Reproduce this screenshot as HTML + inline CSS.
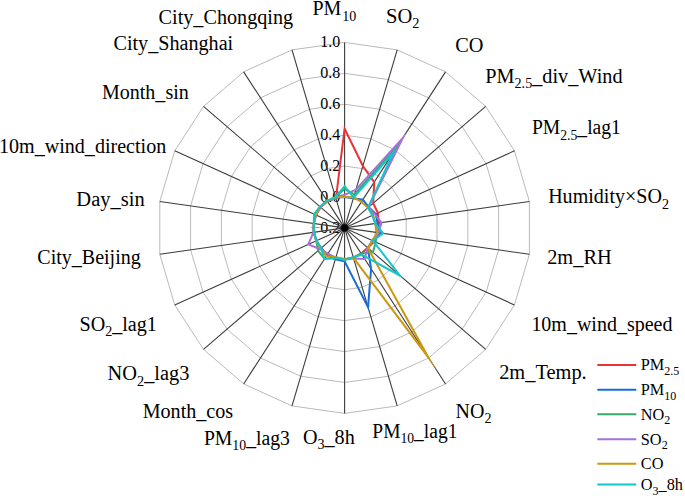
<!DOCTYPE html>
<html><head><meta charset="utf-8"><style>
html,body{margin:0;padding:0;background:#fff;}
svg{display:block;}
text{font-family:"Liberation Serif",serif;fill:#000;}
.lab{font-size:20px;}
.sub{font-size:14px;}
.tick{font-size:16px;}
.leg{font-size:16.3px;}
.lsub{font-size:12px;}
</style></head><body>
<svg width="685" height="496" viewBox="0 0 685 496">

<polygon points="344.60,196.98 353.37,198.24 361.42,201.89 368.12,207.65 372.90,215.06 375.40,223.50 375.40,232.30 372.90,240.74 368.12,248.15 361.42,253.91 353.37,257.56 344.60,258.82 335.83,257.56 327.78,253.91 321.08,248.15 316.30,240.74 313.80,232.30 313.80,223.50 316.30,215.06 321.08,207.65 327.78,201.89 335.83,198.24" fill="none" stroke="#a8a8a8" stroke-width="0.8"/>
<polygon points="344.60,166.07 362.13,168.57 378.25,175.88 391.63,187.41 401.21,202.21 406.20,219.10 406.20,236.70 401.21,253.59 391.63,268.39 378.25,279.92 362.13,287.23 344.60,289.73 327.07,287.23 310.95,279.92 297.57,268.39 287.99,253.59 283.00,236.70 283.00,219.10 287.99,202.21 297.57,187.41 310.95,175.88 327.07,168.57" fill="none" stroke="#a8a8a8" stroke-width="0.8"/>
<polygon points="344.60,135.15 370.90,138.91 395.07,149.87 415.15,167.16 429.51,189.37 437.00,214.70 437.00,241.10 429.51,266.43 415.15,288.64 395.07,305.93 370.90,316.89 344.60,320.65 318.30,316.89 294.13,305.93 274.05,288.64 259.69,266.43 252.20,241.10 252.20,214.70 259.69,189.37 274.05,167.16 294.13,149.87 318.30,138.91" fill="none" stroke="#a8a8a8" stroke-width="0.8"/>
<polygon points="344.60,104.23 379.67,109.24 411.89,123.86 438.67,146.92 457.82,176.53 467.80,210.30 467.80,245.50 457.82,279.27 438.67,308.88 411.89,331.94 379.67,346.56 344.60,351.57 309.53,346.56 277.31,331.94 250.53,308.88 231.38,279.27 221.40,245.50 221.40,210.30 231.38,176.53 250.53,146.92 277.31,123.86 309.53,109.24" fill="none" stroke="#a8a8a8" stroke-width="0.8"/>
<polygon points="344.60,73.32 388.43,79.58 428.71,97.86 462.18,126.67 486.12,163.68 498.60,205.90 498.60,249.90 486.12,292.12 462.18,329.13 428.71,357.94 388.43,376.22 344.60,382.48 300.77,376.22 260.49,357.94 227.02,329.13 203.08,292.12 190.60,249.90 190.60,205.90 203.08,163.68 227.02,126.67 260.49,97.86 300.77,79.58" fill="none" stroke="#a8a8a8" stroke-width="0.8"/>
<polygon points="344.60,42.40 397.20,49.91 445.54,71.85 485.70,106.42 514.43,150.84 529.40,201.50 529.40,254.30 514.43,304.96 485.70,349.38 445.54,383.95 397.20,405.89 344.60,413.40 292.00,405.89 243.66,383.95 203.50,349.38 174.77,304.96 159.80,254.30 159.80,201.50 174.77,150.84 203.50,106.42 243.66,71.85 292.00,49.91" fill="none" stroke="#a8a8a8" stroke-width="0.8"/>
<line x1="311.2" y1="227.60" x2="319.6" y2="227.60" stroke="#8a8a8a" stroke-width="0.9"/>
<text class="tick" x="340.3" y="227.4" text-anchor="end" dominant-baseline="central">0.2</text>
<text class="tick" x="340.3" y="196.5" text-anchor="end" dominant-baseline="central">0.0</text>
<text class="tick" x="340.3" y="165.6" text-anchor="end" dominant-baseline="central">0.2</text>
<text class="tick" x="340.3" y="134.6" text-anchor="end" dominant-baseline="central">0.4</text>
<text class="tick" x="340.3" y="103.7" text-anchor="end" dominant-baseline="central">0.6</text>
<text class="tick" x="340.3" y="72.8" text-anchor="end" dominant-baseline="central">0.8</text>
<text class="tick" x="340.3" y="41.9" text-anchor="end" dominant-baseline="central">1.0</text>
<line x1="344.60" y1="227.90" x2="344.60" y2="42.40" stroke="#3c3c3c" stroke-width="1.1"/>
<line x1="344.60" y1="227.90" x2="397.20" y2="49.91" stroke="#3c3c3c" stroke-width="1.1"/>
<line x1="344.60" y1="227.90" x2="445.54" y2="71.85" stroke="#3c3c3c" stroke-width="1.1"/>
<line x1="344.60" y1="227.90" x2="485.70" y2="106.42" stroke="#3c3c3c" stroke-width="1.1"/>
<line x1="344.60" y1="227.90" x2="514.43" y2="150.84" stroke="#3c3c3c" stroke-width="1.1"/>
<line x1="344.60" y1="227.90" x2="529.40" y2="201.50" stroke="#3c3c3c" stroke-width="1.1"/>
<line x1="344.60" y1="227.90" x2="529.40" y2="254.30" stroke="#3c3c3c" stroke-width="1.1"/>
<line x1="344.60" y1="227.90" x2="514.43" y2="304.96" stroke="#3c3c3c" stroke-width="1.1"/>
<line x1="344.60" y1="227.90" x2="485.70" y2="349.38" stroke="#3c3c3c" stroke-width="1.1"/>
<line x1="344.60" y1="227.90" x2="445.54" y2="383.95" stroke="#3c3c3c" stroke-width="1.1"/>
<line x1="344.60" y1="227.90" x2="397.20" y2="405.89" stroke="#3c3c3c" stroke-width="1.1"/>
<line x1="344.60" y1="227.90" x2="344.60" y2="413.40" stroke="#3c3c3c" stroke-width="1.1"/>
<line x1="344.60" y1="227.90" x2="292.00" y2="405.89" stroke="#3c3c3c" stroke-width="1.1"/>
<line x1="344.60" y1="227.90" x2="243.66" y2="383.95" stroke="#3c3c3c" stroke-width="1.1"/>
<line x1="344.60" y1="227.90" x2="203.50" y2="349.38" stroke="#3c3c3c" stroke-width="1.1"/>
<line x1="344.60" y1="227.90" x2="174.77" y2="304.96" stroke="#3c3c3c" stroke-width="1.1"/>
<line x1="344.60" y1="227.90" x2="159.80" y2="254.30" stroke="#3c3c3c" stroke-width="1.1"/>
<line x1="344.60" y1="227.90" x2="159.80" y2="201.50" stroke="#3c3c3c" stroke-width="1.1"/>
<line x1="344.60" y1="227.90" x2="174.77" y2="150.84" stroke="#3c3c3c" stroke-width="1.1"/>
<line x1="344.60" y1="227.90" x2="203.50" y2="106.42" stroke="#3c3c3c" stroke-width="1.1"/>
<line x1="344.60" y1="227.90" x2="243.66" y2="71.85" stroke="#3c3c3c" stroke-width="1.1"/>
<line x1="344.60" y1="227.90" x2="292.00" y2="49.91" stroke="#3c3c3c" stroke-width="1.1"/>
<defs><radialGradient id="blob"><stop offset="0" stop-color="#000" stop-opacity="1"/><stop offset="0.6" stop-color="#000" stop-opacity="1"/><stop offset="1" stop-color="#000" stop-opacity="0"/></radialGradient></defs>
<circle cx="344.60" cy="227.90" r="4.7" fill="url(#blob)"/>
<polygon points="344.60,128.73 362.88,166.05 374.21,182.12 373.17,203.30 377.86,212.81 378.79,223.02 378.48,232.74 374.32,241.39 367.76,247.84 361.17,253.52 353.37,257.56 344.60,259.59 335.83,257.56 326.94,255.21 321.08,248.15 316.30,240.74 313.80,232.30 313.80,223.50 316.01,214.93 320.50,207.15 327.10,200.85 335.92,198.53" fill="none" stroke="#eb3237" stroke-width="2" stroke-linejoin="miter" stroke-miterlimit="30"/>
<polygon points="344.60,196.98 353.37,198.24 362.85,199.68 368.70,207.15 375.74,213.77 377.56,223.19 380.17,232.98 372.34,240.49 367.88,247.94 371.10,268.86 368.05,307.25 344.60,261.29 335.31,259.34 326.94,255.21 321.08,248.15 316.30,240.74 313.80,232.30 313.80,223.50 315.87,214.86 320.14,206.84 327.36,201.24 335.66,197.64" fill="none" stroke="#176cdc" stroke-width="2" stroke-linejoin="miter" stroke-miterlimit="30"/>
<polygon points="344.60,189.10 354.51,194.38 399.44,143.11 368.12,207.65 372.90,215.06 375.40,223.50 376.94,232.52 375.74,242.03 372.94,252.30 361.17,253.52 353.37,257.56 344.60,259.59 335.61,258.31 324.66,258.72 318.03,250.78 316.30,240.74 313.80,232.30 313.80,223.50 314.88,214.41 320.50,207.15 327.36,201.24 335.40,196.75" fill="none" stroke="#38aa6a" stroke-width="2" stroke-linejoin="miter" stroke-miterlimit="30"/>
<polygon points="344.60,194.82 355.87,189.78 402.81,137.91 368.35,207.45 374.74,214.22 381.56,222.62 378.48,232.74 372.90,240.74 367.65,247.74 364.70,258.98 353.63,258.45 344.60,259.59 335.83,257.56 327.95,253.65 320.14,248.96 308.23,244.40 313.49,232.34 313.80,223.50 315.59,214.74 320.50,207.15 327.36,201.24 335.61,197.49" fill="none" stroke="#a970dd" stroke-width="2" stroke-linejoin="miter" stroke-miterlimit="30"/>
<polygon points="344.60,196.67 353.59,197.49 361.42,201.89 368.12,207.65 372.90,215.06 375.40,223.50 377.40,232.59 372.34,240.49 367.88,247.94 428.71,357.94 353.45,257.86 344.60,258.97 335.96,257.12 326.43,255.99 320.50,248.65 316.30,240.74 313.80,232.30 313.80,223.50 315.87,214.86 320.03,206.74 327.36,201.24 335.61,197.49" fill="none" stroke="#cc980f" stroke-width="2" stroke-linejoin="miter" stroke-miterlimit="30"/>
<polygon points="344.60,186.01 353.54,197.64 393.22,152.73 368.12,207.65 372.20,215.38 375.40,223.50 383.10,233.40 372.90,240.74 399.86,275.48 362.01,254.82 353.24,257.12 344.60,260.05 335.83,257.56 324.50,258.98 321.08,248.15 316.58,240.61 313.80,232.30 313.80,223.50 314.03,214.03 319.91,206.64 326.94,200.59 335.48,197.05" fill="none" stroke="#12c6cb" stroke-width="2" stroke-linejoin="miter" stroke-miterlimit="30"/>
<text class="lab" x="312.5" y="15.2">PM<tspan class="sub" x="342.3" dy="5.3">10</tspan></text>
<text class="lab" x="386.01" y="22.8" textLength="33.41" lengthAdjust="spacingAndGlyphs">SO<tspan class="sub" dy="5.3">2</tspan></text>
<text class="lab" x="455.20" y="51.6" textLength="28.20" lengthAdjust="spacingAndGlyphs">CO</text>
<text class="lab" x="485.26" y="82.5" textLength="137.31" lengthAdjust="spacingAndGlyphs">PM<tspan class="sub" dy="5.3">2.5</tspan><tspan dy="-5.3">_div_Wind</tspan></text>
<text class="lab" x="531.90" y="134.2" textLength="89.00" lengthAdjust="spacingAndGlyphs">PM<tspan class="sub" dy="5.3">2.5</tspan><tspan dy="-5.3">_lag1</tspan></text>
<text class="lab" x="548.15" y="203.3" textLength="120.76" lengthAdjust="spacingAndGlyphs">Humidity×SO<tspan class="sub" dy="5.3">2</tspan></text>
<text class="lab" x="547.17" y="263.5" textLength="64.55" lengthAdjust="spacingAndGlyphs">2m_RH</text>
<text class="lab" x="531.38" y="330.8" textLength="141.03" lengthAdjust="spacingAndGlyphs">10m_wind_speed</text>
<text class="lab" x="499.16" y="379.3" textLength="87.54" lengthAdjust="spacingAndGlyphs">2m_Temp.</text>
<text class="lab" x="455.5" y="417.7">NO<tspan class="sub" dy="5.3">2</tspan></text>
<text class="lab" x="372.33" y="437.6" textLength="85.08" lengthAdjust="spacingAndGlyphs">PM<tspan class="sub" dy="5.3">10</tspan><tspan dy="-5.3">_lag1</tspan></text>
<text class="lab" x="302.91" y="444.1" textLength="51.82" lengthAdjust="spacingAndGlyphs">O<tspan class="sub" dy="5.3">3</tspan><tspan dy="-5.3">_8h</tspan></text>
<text class="lab" x="203.90" y="445.1" textLength="86.00" lengthAdjust="spacingAndGlyphs">PM<tspan class="sub" dy="5.3">10</tspan><tspan dy="-5.3">_lag3</tspan></text>
<text class="lab" x="142.69" y="417.8" textLength="90.40" lengthAdjust="spacingAndGlyphs">Month_cos</text>
<text class="lab" x="107.61" y="380.4" textLength="81.84" lengthAdjust="spacingAndGlyphs">NO<tspan class="sub" dy="5.3">2</tspan><tspan dy="-5.3">_lag3</tspan></text>
<text class="lab" x="79.49" y="330.8" textLength="77.43" lengthAdjust="spacingAndGlyphs">SO<tspan class="sub" dy="5.3">2</tspan><tspan dy="-5.3">_lag1</tspan></text>
<text class="lab" x="37.30" y="264.3" textLength="103.41" lengthAdjust="spacingAndGlyphs">City_Beijing</text>
<text class="lab" x="76.36" y="205.7" textLength="68.32" lengthAdjust="spacingAndGlyphs">Day_sin</text>
<text class="lab" x="-0.99" y="153.2" textLength="167.23" lengthAdjust="spacingAndGlyphs">10m_wind_direction</text>
<text class="lab" x="101.93" y="98.9" textLength="86.86" lengthAdjust="spacingAndGlyphs">Month_sin</text>
<text class="lab" x="113.52" y="50.2" textLength="119.64" lengthAdjust="spacingAndGlyphs">City_Shanghai</text>
<text class="lab" x="158.60" y="23.6" textLength="134.55" lengthAdjust="spacingAndGlyphs">City_Chongqing</text>
<line x1="597.3" y1="364.9" x2="636.3" y2="364.9" stroke="#eb3237" stroke-width="2"/>
<text class="leg" x="640.8" y="370.3">PM<tspan class="lsub" dy="4.6">2.5</tspan></text>
<line x1="597.3" y1="389.7" x2="636.3" y2="389.7" stroke="#176cdc" stroke-width="2"/>
<text class="leg" x="640.8" y="395.1">PM<tspan class="lsub" dy="4.6">10</tspan></text>
<line x1="597.3" y1="414.3" x2="636.3" y2="414.3" stroke="#38aa6a" stroke-width="2"/>
<text class="leg" x="640.8" y="419.7">NO<tspan class="lsub" dy="4.6">2</tspan></text>
<line x1="597.3" y1="439.2" x2="636.3" y2="439.2" stroke="#a970dd" stroke-width="2"/>
<text class="leg" x="640.8" y="444.6">SO<tspan class="lsub" dy="4.6">2</tspan></text>
<line x1="597.3" y1="463.7" x2="636.3" y2="463.7" stroke="#cc980f" stroke-width="2"/>
<text class="leg" x="640.8" y="469.1">CO</text>
<line x1="597.3" y1="484.6" x2="636.3" y2="484.6" stroke="#12c6cb" stroke-width="2"/>
<text class="leg" x="640.8" y="490.0">O<tspan class="lsub" dy="4.6">3</tspan><tspan dy="-4.6">_8h</tspan></text>
</svg></body></html>
